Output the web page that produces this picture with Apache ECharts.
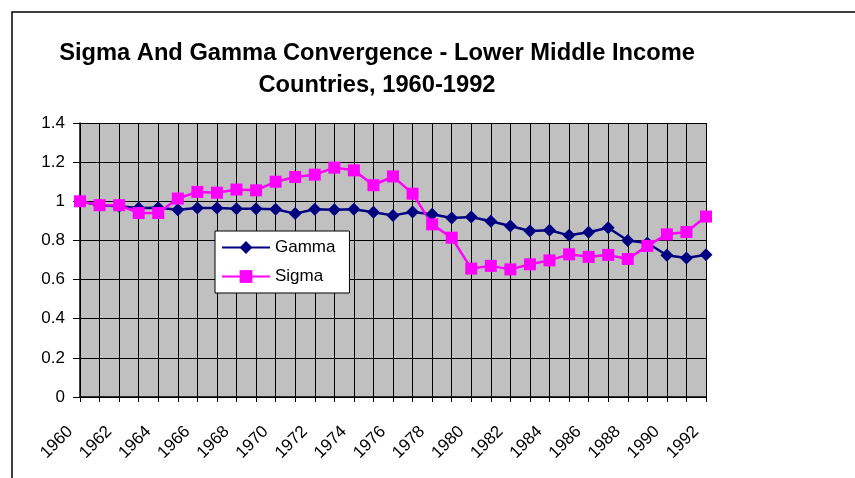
<!DOCTYPE html>
<html>
<head>
<meta charset="utf-8">
<script src="https://cdn.jsdelivr.net/npm/echarts@6/dist/echarts.min.js"></script>
<style>
  html, body { margin: 0; padding: 0; background: #fff; }
  #main { width: 855px; height: 478px; }
</style>
</head>
<body>
<div id="main"></div>
<script>
var years = ['1960', '1961', '1962', '1963', '1964', '1965', '1966', '1967', '1968', '1969', '1970',
  '1971', '1972', '1973', '1974', '1975', '1976', '1977', '1978', '1979', '1980', '1981',
  '1982', '1983', '1984', '1985', '1986', '1987', '1988', '1989', '1990', '1991', '1992'];

var gamma = [1.0, 0.98, 0.975, 0.966, 0.967, 0.957, 0.966, 0.966, 0.962, 0.962, 0.959,
  0.937, 0.959, 0.957, 0.959, 0.944, 0.928, 0.945, 0.934, 0.915, 0.92, 0.898,
  0.874, 0.848, 0.852, 0.826, 0.842, 0.865, 0.80, 0.787, 0.724, 0.71, 0.727];

var sigma = [1.0, 0.98, 0.98, 0.94, 0.94, 1.014, 1.048, 1.044, 1.06, 1.056, 1.10,
  1.124, 1.136, 1.172, 1.158, 1.082, 1.127, 1.039, 0.882, 0.814, 0.656, 0.670,
  0.652, 0.678, 0.698, 0.729, 0.716, 0.726, 0.705, 0.772, 0.831, 0.843, 0.922];

var chartDom = document.getElementById('main');
var myChart = echarts.init(chartDom);
var option;

option = {
  backgroundColor: '#ffffff',
  animation: false,
  title: {
    text: 'Sigma And Gamma Convergence - Lower Middle Income\nCountries, 1960-1992',
    left: 372,
    top: 32,
    textAlign: 'center',
    textStyle: {
      fontFamily: 'Liberation Sans',
      fontWeight: 'bold',
      fontSize: 23.7,
      lineHeight: 32,
      color: '#000'
    }
  },
  graphic: [
    {
      type: 'rect',
      shape: { x: 12, y: 12, width: 900, height: 520 },
      style: { fill: 'none', stroke: '#000', lineWidth: 1.5 },
      silent: true
    }
  ],
  legend: {
    orient: 'vertical',
    left: 215,
    top: 231,
    backgroundColor: '#ffffff',
    borderColor: '#000',
    borderWidth: 1,
    padding: [8, 14, 8, 6],
    itemWidth: 48,
    itemHeight: 16,
    itemGap: 12,
    textStyle: { fontFamily: 'Liberation Sans', fontSize: 17, color: '#000' },
    data: ['Gamma', 'Sigma']
  },
  grid: {
    left: 80,
    right: 149,
    top: 123,
    bottom: 81
  },
  xAxis: {
    type: 'category',
    data: years,
    boundaryGap: false,
    axisLine: { lineStyle: { color: '#000', width: 1.5 } },
    axisTick: { show: true, interval: 0, length: 5, lineStyle: { color: '#000' } },
    axisLabel: {
      interval: 1,
      rotate: 45,
      margin: 22,
      padding: [0, 14, 0, 0],
      fontFamily: 'Liberation Sans',
      fontSize: 17,
      color: '#000'
    },
    splitLine: { show: true, interval: 0, lineStyle: { color: '#000', width: 1 } }
  },
  yAxis: {
    type: 'value',
    min: 0,
    max: 1.4,
    interval: 0.2,
    axisLine: { show: true, lineStyle: { color: '#000', width: 1.5 } },
    axisTick: { show: true, length: 7, lineStyle: { color: '#000' } },
    axisLabel: {
      margin: 15,
      fontFamily: 'Liberation Sans',
      fontSize: 17,
      color: '#000',
      formatter: function (v) { return String(Math.round(v * 10) / 10); }
    },
    splitLine: { show: true, lineStyle: { color: '#000', width: 1 } },
    splitArea: { show: true, areaStyle: { color: ['#c0c0c0', '#c0c0c0'] } }
  },
  series: [
    {
      name: 'Gamma',
      type: 'line',
      data: gamma,
      symbol: 'diamond',
      symbolSize: 13,
      showAllSymbol: true,
      lineStyle: { color: '#000080', width: 2.5 },
      itemStyle: { color: '#000080' }
    },
    {
      name: 'Sigma',
      type: 'line',
      data: sigma,
      symbol: 'rect',
      symbolSize: 12,
      showAllSymbol: true,
      lineStyle: { color: '#ff00ff', width: 2.5 },
      itemStyle: { color: '#ff00ff' }
    }
  ]
};

myChart.setOption(option);
</script>
</body>
</html>
